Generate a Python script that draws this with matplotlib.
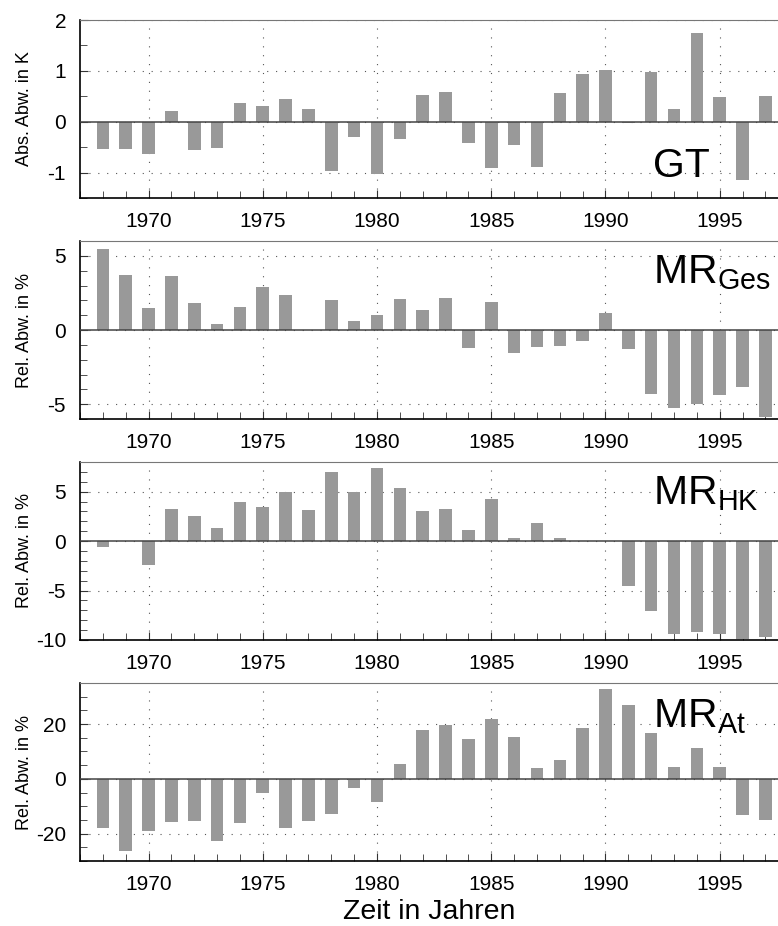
import numpy as np
import matplotlib
matplotlib.use("Agg")
import matplotlib.pyplot as plt
import matplotlib.transforms as mtransforms
from matplotlib.ticker import MultipleLocator

plt.rcParams['font.family'] = ['Liberation Sans', 'DejaVu Sans']
plt.rcParams['mathtext.fontset'] = 'custom'
plt.rcParams['mathtext.rm'] = 'Liberation Sans'
plt.rcParams['mathtext.it'] = 'Liberation Sans'
plt.rcParams['axes.unicode_minus'] = False

years = np.arange(1968, 1998)

gt = [-0.53, -0.53, -0.63, 0.21, -0.55, -0.51, 0.36, 0.31, 0.45, 0.25,
      -0.97, -0.31, -1.03, -0.34, 0.53, 0.58, -0.41, -0.92, -0.45, -0.90,
      0.56, 0.93, 1.02, -0.02, 0.98, 0.25, 1.75, 0.48, -1.15, 0.50]

mr_ges = [5.48, 3.73, 1.48, 3.66, 1.84, 0.43, 1.57, 2.88, 2.38, 0.0,
          2.02, 0.58, 1.03, 2.11, 1.33, 2.18, -1.24, 1.87, -1.55, -1.15,
          -1.06, -0.72, 1.12, -1.28, -4.29, -5.24, -4.99, -4.36, -3.87, -5.87]

mr_hk = [-0.61, 0.0, -2.42, 3.20, 2.53, 1.28, 4.00, 3.40, 4.92, 3.16,
         6.94, 4.95, 7.41, 5.32, 3.00, 3.27, 1.14, 4.28, 0.34, 1.82,
         0.27, 0.0, 0.0, -4.58, -7.07, -9.36, -9.16, -9.36, -9.90, -9.70]

mr_at = [-18.0, -26.3, -19.1, -15.8, -15.3, -22.6, -16.1, -5.0, -18.0, -15.3,
         -12.8, -3.4, -8.6, 5.5, 17.9, 19.7, 14.4, 22.0, 15.2, 3.8,
         6.85, 18.7, 32.8, 26.9, 16.6, 4.3, 11.25, 4.16, -13.1, -15.2]

series = [gt, mr_ges, mr_hk, mr_at]
ylabels = ["Abs. Abw. in K", "Rel. Abw. in %", "Rel. Abw. in %", "Rel. Abw. in %"]
names = ["GT", r"MR$_{\mathrm{Ges}}$", r"MR$_{\mathrm{HK}}$", r"MR$_{\mathrm{At}}$"]
name_y = [0.118, 0.76, 0.76, 0.75]
ylims = [(-1.5, 2), (-6, 6), (-10, 8), (-30, 35)]
major = [1, 5, 5, 20]
minor = [0.5, 1, 1, 5]

fig = plt.figure(figsize=(7.78, 9.26), dpi=100)
bottoms = [0.7862, 0.5475, 0.3089, 0.0702]

for i in range(4):
    ax = fig.add_axes([0.1028, bottoms[i], 0.8972, 0.1922])
    ax.bar(years, series[i], width=0.55, color='#999999', edgecolor='none', zorder=3)
    ax.axhline(0, color='#444444', lw=1.1, zorder=4)
    ax.set_xlim(1967, 1997.55)
    ax.set_ylim(*ylims[i])
    ax.xaxis.set_major_locator(MultipleLocator(5))
    ax.xaxis.set_minor_locator(MultipleLocator(1))
    ax.yaxis.set_major_locator(MultipleLocator(major[i]))
    ax.yaxis.set_minor_locator(MultipleLocator(minor[i]))
    ax.grid(True, which='major', color='#555555', lw=0.8, linestyle=(0, (1, 7)), zorder=1)
    ax.tick_params(which='both', direction='in', labelsize=15, top=False, right=False,
                   color='#333333')
    ax.tick_params(which='major', length=6, pad=10)
    ax.tick_params(which='minor', length=5)
    ax.spines['right'].set_visible(False)
    ax.spines['top'].set_color('#777777')
    ax.spines['left'].set_linewidth(1.2)
    ax.spines['bottom'].set_linewidth(1.2)
    ax.set_ylabel(ylabels[i], fontsize=13)
    ax.yaxis.set_label_coords(-0.068, 0.5)
    trans = mtransforms.blended_transform_factory(ax.transData, ax.transAxes)
    ax.text(1992.1, name_y[i], names[i], transform=trans, fontsize=29.5,
            ha='left', va='baseline', zorder=5)

ax.set_xlabel("Zeit in Jahren", fontsize=20.5, labelpad=4)

fig.savefig("out.png", dpi=100)
